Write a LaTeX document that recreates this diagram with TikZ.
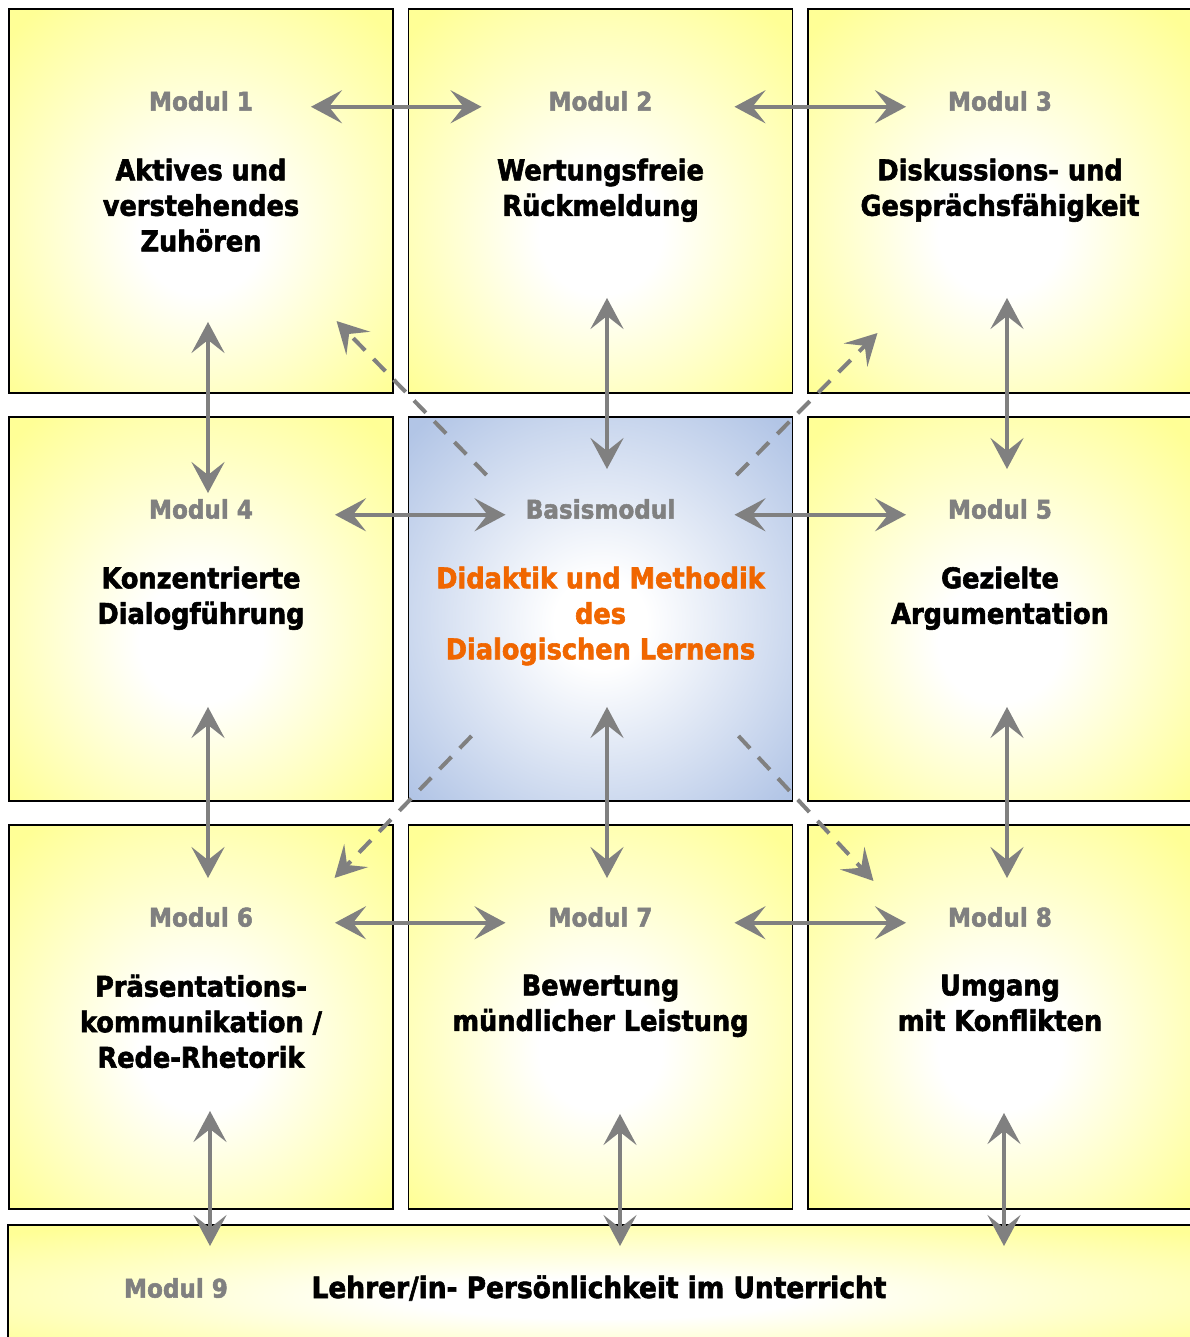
\documentclass[tikz,border=0pt]{standalone}
\usepackage{fontspec}
\newfontfamily\modfont{DejaVu Sans Condensed}[BoldFeatures={FakeBold=2}]
\usetikzlibrary{arrows.meta,positioning}
\definecolor{modyellow}{RGB}{255,255,150}
\definecolor{basisblue}{RGB}{178,197,230}
\definecolor{modgray}{RGB}{128,128,128}
\definecolor{basisorange}{RGB}{240,102,0}
\pgfdeclareradialshading{modglow}{\pgfpoint{0bp}{-5bp}}{color(0bp)=(white); color(8bp)=(white); color(34bp)=(modyellow); color(50bp)=(modyellow)}
\pgfdeclareradialshading{basisglow}{\pgfpoint{0bp}{-2bp}}{color(0bp)=(white); color(6bp)=(white); color(34bp)=(basisblue); color(50bp)=(basisblue)}

\begin{document}
\begin{tikzpicture}[
    node distance=7.99cm,
    modtip/.tip={Stealth[length=0.62cm, width=0.66cm, inset=0.26cm]},
    font=\modfont\bfseries,
    module/.style={
		rectangle,
		draw=black,
		line width=1.1pt,
		shade,
		shading=modglow,
		minimum width=7.68cm,
		minimum height=7.68cm,
		inner sep=0pt
	},
	modtitle/.style={
		inner sep=0pt,
		text=modgray,
		font=\modfont\bfseries\fontsize{14.6}{17}\selectfont
	},
	modtext/.style={
		inner sep=0pt,
		align=center,
		text=black,
		font=\modfont\bfseries\fontsize{16.2}{20.2}\selectfont
	},
	biarrow/.style={
		modtip-modtip,
		draw=modgray,
		fill=modgray,
		line width=0.08cm
	},
	diarrow/.style={
		-modtip,
		draw=modgray,
		line width=0.08cm,
		dash pattern=on 0.34cm off 0.24cm
	}
  ]

 \useasboundingbox (0,0) rectangle (23.78,-26.74);

% // the modules
 \node [module] (m1) at (4.02,-4.02) {};
 \node [module, right of=m1] (m2) {};
 \node [module, right of=m2] (m3) {};
 \node [module, below of=m1, yshift=-0.17cm] (m4) {};
 \node [module, right of=m4, shading=basisglow] (basis) {};
 \node [module, right of=basis] (m5) {};
 \node [module, below of=m4, yshift=-0.17cm] (m6) {};
 \node [module, right of=m6] (m7) {};
 \node [module, right of=m7] (m8) {};
 \node [module, below of=m7, node distance=5.42cm, xshift=0.07cm,
 minimum width=23.84cm, minimum height=2.52cm] (m9) {};

% // titles
 \node [modtitle, node distance=2cm, above of=m1] (t1) {Modul 1};
 \node [modtitle, node distance=2cm, above of=m2] (t2) {Modul 2};
 \node [modtitle, node distance=2cm, above of=m3] (t3) {Modul 3};
 \node [modtitle, node distance=2cm, above of=m4] (t4) {Modul 4};
 \node [modtitle, node distance=2cm, above of=basis] (tb) {Basismodul};
 \node [modtitle, node distance=2cm, above of=m5] (t5) {Modul 5};
 \node [modtitle, node distance=2cm, above of=m6] (t6) {Modul 6};
 \node [modtitle, node distance=2cm, above of=m7] (t7) {Modul 7};
 \node [modtitle, node distance=2cm, above of=m8] (t8) {Modul 8};
 \node [modtitle, node distance=8.56cm, left of=m9] (t9) {Modul 9};

% // contents
 \node [modtext, below=0.94cm of t1] (b1) {Aktives und\\verstehendes\\Zuhören};
 \node [modtext, below=0.94cm of t2] (b2) {Wertungsfreie\\Rückmeldung};
 \node [modtext, below=0.94cm of t3] (b3) {Diskussions- und\\Gesprächsfähigkeit};
 \node [modtext, below=0.94cm of t4] (b4) {Konzentrierte\\Dialogführung};
 \node [modtext, below=0.94cm of tb, text=basisorange] (bb) {Didaktik und Methodik\\des\\Dialogischen Lernens};
 \node [modtext, below=0.94cm of t5] (b5) {Gezielte\\Argumentation};
 \node [modtext, below=0.94cm of t6] (b6) {Präsentations-\\kommunikation /\\Rede-Rhetorik};
 \node [modtext, below=0.94cm of t7] (b7) {Bewertung\\mündlicher Leistung};
 \node [modtext, below=0.94cm of t8] (b8) {Umgang\\mit Konflikten};
 \node [modtext, right=1.66cm of t9, font=\modfont\bfseries\fontsize{16.7}{20.2}\selectfont] (b9) {Lehrer/in- Persönlichkeit im Unterricht};

% // horizontal links
 \draw [biarrow, shorten <=-1.66cm, shorten >=-1.48cm] (m1.east |- t1.mid) -- (m2.west |- t1.mid);
 \draw [biarrow, shorten <=-1.18cm, shorten >=-1.98cm] (m2.east |- t2.mid) -- (m3.west |- t2.mid);
 \draw [biarrow, shorten <=-1.18cm, shorten >=-1.96cm] (m4.east |- t4.mid) -- (basis.west |- t4.mid);
 \draw [biarrow, shorten <=-1.18cm, shorten >=-1.98cm] (basis.east |- tb.mid) -- (m5.west |- tb.mid);
 \draw [biarrow, shorten <=-1.18cm, shorten >=-1.96cm] (m6.east |- t6.mid) -- (m7.west |- t6.mid);
 \draw [biarrow, shorten <=-1.18cm, shorten >=-1.98cm] (m7.east |- t7.mid) -- (m8.west |- t7.mid);

% // vertical links
 \draw [biarrow, shorten <=-1.44cm, shorten >=-1.54cm] ([xshift=0.14cm]m1.south) -- ([xshift=0.14cm]m4.north);
 \draw [biarrow, shorten <=-1.90cm, shorten >=-1.08cm] ([xshift=0.14cm]m4.south) -- ([xshift=0.14cm]m6.north);
 \draw [biarrow, shorten <=-1.92cm, shorten >=-1.06cm] ([xshift=0.13cm]m2.south) -- ([xshift=0.13cm]basis.north);
 \draw [biarrow, shorten <=-1.90cm, shorten >=-1.08cm] ([xshift=0.13cm]basis.south) -- ([xshift=0.13cm]m7.north);
 \draw [biarrow, shorten <=-1.92cm, shorten >=-1.06cm] ([xshift=0.14cm]m3.south) -- ([xshift=0.14cm]m5.north);
 \draw [biarrow, shorten <=-1.90cm, shorten >=-1.08cm] ([xshift=0.14cm]m5.south) -- ([xshift=0.14cm]m8.north);
 \draw [biarrow, shorten <=-1.98cm, shorten >=-0.44cm] ([xshift=0.18cm]m6.south) -- ([xshift=0.18cm]m6.south |- m9.north);
 \draw [biarrow, shorten <=-1.92cm, shorten >=-0.44cm] ([xshift=0.39cm]m7.south) -- ([xshift=0.39cm]m7.south |- m9.north);
 \draw [biarrow, shorten <=-1.94cm, shorten >=-0.44cm] ([xshift=0.08cm]m8.south) -- ([xshift=0.08cm]m8.south |- m9.north);

% // diagonal links
 \draw [diarrow] ([shift={(1.58cm,-1.18cm)}]basis.north west) -- ([shift={(-1.42cm,1.9cm)}]basis.north west);
 \draw [diarrow] ([shift={(-1.14cm,-1.18cm)}]basis.north east) -- ([shift={(1.68cm,1.66cm)}]basis.north east);
 \draw [diarrow] ([shift={(1.28cm,1.32cm)}]basis.south west) -- ([shift={(-1.46cm,-1.52cm)}]basis.south west);
 \draw [diarrow] ([shift={(-1.1cm,1.32cm)}]basis.south east) -- ([shift={(1.6cm,-1.58cm)}]basis.south east);

\end{tikzpicture}
\end{document}
